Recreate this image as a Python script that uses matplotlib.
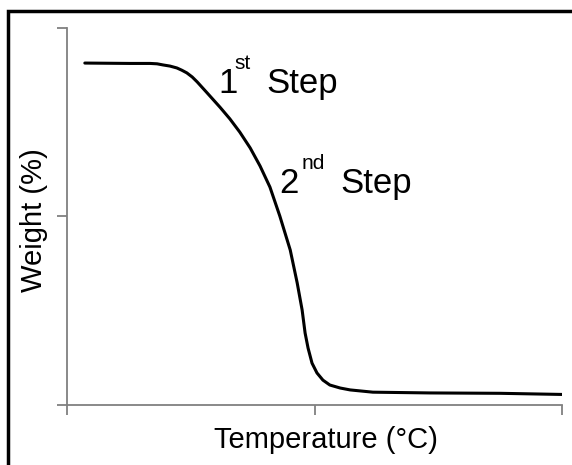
import matplotlib.pyplot as plt
from matplotlib.patches import Rectangle

plt.rcParams['font.family'] = ['Liberation Sans', 'DejaVu Sans']

# Data (satuan sumbu sembarang: suhu 0-1000, berat 0-100)
suhu = [36, 127, 168, 182, 194, 208, 222, 232, 242, 253, 263, 283, 309, 329,
        349, 370, 390, 410, 430, 451, 465, 475, 481, 487, 495, 505, 517, 531,
        552, 572, 618, 733, 875, 1000]
berat = [90.7, 90.6, 90.6, 90.5, 90.2, 89.9, 89.4, 88.8, 88.1, 87.0, 85.7,
         82.8, 79.0, 75.9, 72.4, 68.2, 63.4, 57.8, 50.1, 41.1, 32.4, 25.2,
         19.1, 15.1, 11.1, 8.5, 6.6, 5.3, 4.5, 4.0, 3.4, 3.2, 3.1, 2.8]
x_ticks = [0, 500, 1000]
y_ticks = [0, 50, 100]

W, H = 572, 465
fig = plt.figure(figsize=(W / 100, H / 100), dpi=100)
ax = fig.add_axes([67 / W, 1 - 405 / H, 495 / W, 377 / H])

ax.plot(suhu, berat, color='black', lw=2.2, solid_capstyle='round', solid_joinstyle='round')
ax.set_xlim(0, 1000)
ax.set_ylim(0, 100)
ax.set_xticks(x_ticks)
ax.set_yticks(y_ticks)
ax.set_xticklabels([])
ax.set_yticklabels([])
for s in ['top', 'right']:
    ax.spines[s].set_visible(False)
for s in ['left', 'bottom']:
    ax.spines[s].set_color('#808080')
    ax.spines[s].set_linewidth(1.3)
ax.tick_params(direction='out', length=7, width=1.3, color='#808080')

# Label langkah
fig.text(218 / W, 1 - 93 / H, '1', fontsize=25, va='baseline')
fig.text(234 / W, 1 - 69 / H, 'st', fontsize=15, va='baseline')
fig.text(266 / W, 1 - 93 / H, 'Step', fontsize=25, va='baseline')
fig.text(279 / W, 1 - 193 / H, '2', fontsize=25, va='baseline')
fig.text(302 / W, 1 - 169 / H, 'nd', fontsize=15, va='baseline')
fig.text(340 / W, 1 - 193 / H, 'Step', fontsize=25, va='baseline')

# Label sumbu
fig.text(326 / W, 1 - 448 / H, 'Temperature (°C)', fontsize=21, ha='center', va='baseline')
fig.text(34 / W, 1 - 220 / H, 'Weight (%)', fontsize=21, rotation=90, ha='center', va='center')

# Bingkai luar
fig.patches.append(Rectangle((8 / W, -0.05), 1.1, 1 - 11 / H + 0.05, transform=fig.transFigure,
                             fill=False, ec='black', lw=2.5, clip_on=False))

fig.savefig('out.png', dpi=100)
